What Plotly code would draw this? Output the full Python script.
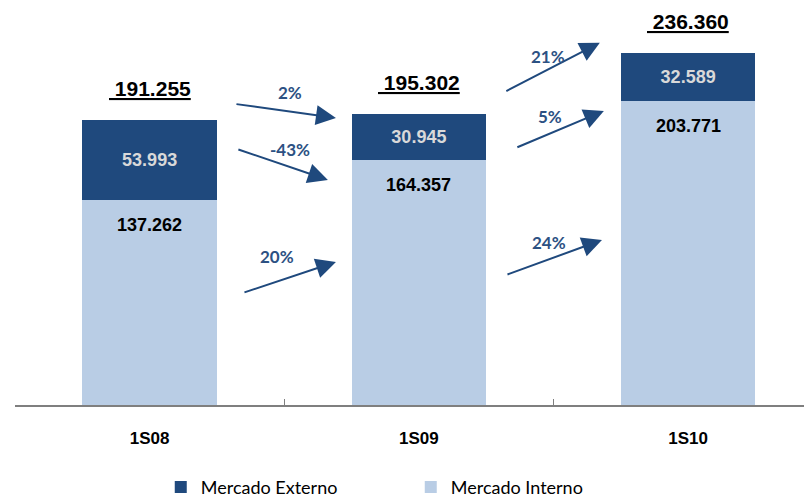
import plotly.graph_objects as go

periodos = ["1S08", "1S09", "1S10"]
mercado_interno = [137262, 164357, 203771]
mercado_externo = [53993, 30945, 32589]

# variacoes entre periodos
var_total = ["2%", "21%"]
var_externo = ["-43%", "5%"]
var_interno = ["20%", "24%"]

azul_escuro = "#1F497D"
azul_claro = "#B9CDE5"
azul_texto = "#2C5183"


def fmt(v):
    return f"{v:,}".replace(",", ".")


totais = [a + b for a, b in zip(mercado_interno, mercado_externo)]
xs = list(range(len(periodos)))

fig = go.Figure()
fig.add_trace(go.Bar(
    x=periodos, y=mercado_interno, name="Mercado Interno",
    marker=dict(color=azul_claro, line=dict(width=0)), width=0.5,
))
fig.add_trace(go.Bar(
    x=periodos, y=mercado_externo, name="Mercado Externo",
    marker=dict(color=azul_escuro, line=dict(width=0)), width=0.5,
    text=["<b>" + fmt(v) + "</b>" for v in mercado_externo], textposition="inside",
    insidetextanchor="middle",
    textfont=dict(family="Liberation Sans, Arial", size=18, color="#D9D9D9"),
))

anns = []
for i in xs:
    # rotulo do mercado interno, logo abaixo do topo do segmento
    anns.append(dict(x=i, y=mercado_interno[i], yshift=-25, text="<b>" + fmt(mercado_interno[i]) + "</b>",
                     showarrow=False, font=dict(family="Liberation Sans, Arial", size=18, color="black")))
    # total sublinhado
    anns.append(dict(x=i, y=totais[i], yshift=31, text="<b><u> " + fmt(totais[i]) + "</u></b>",
                     showarrow=False, font=dict(family="Liberation Sans, Arial", size=21, color="black")))

# setas de variacao (posicao aproximada a partir do grafico original)
setas = [
    # (x ponta, y ponta, ax, ay, x rotulo, y rotulo, texto)
    (0.692, 192600, -101, -14, 0.521, 209400, var_total[0]),
    (0.662, 151000, -91, -31, 0.521, 171100, var_externo[0]),
    (0.692, 96000, -93, 31, 0.473, 99300, var_interno[0]),
    (1.672, 243000, -95, 49, 1.479, 233600, var_total[1]),
    (1.687, 197300, -88, 37, 1.487, 193300, var_externo[1]),
    (1.680, 110700, -96, 35, 1.483, 108700, var_interno[1]),
]
for hx, hy, ax, ay, lx, ly, txt in setas:
    anns.append(dict(x=hx, y=hy, ax=ax, ay=ay, text="", showarrow=True,
                     arrowhead=2, arrowsize=2.0, arrowwidth=2, arrowcolor=azul_escuro))
    anns.append(dict(x=lx, y=ly, text="<b>" + txt + "</b>", showarrow=False,
                     font=dict(family="Lato", size=17, color=azul_texto)))

# a pagina tem margem de 8px no body, por isso 804x490
fig.update_layout(
    barmode="stack",
    width=804, height=490,
    margin=dict(l=7, r=0, t=2, b=93, autoexpand=False),
    plot_bgcolor="white", paper_bgcolor="white",
    annotations=anns,
    legend=dict(orientation="h", xref="container", x=0.19, xanchor="left",
                yref="container", y=0.022, yanchor="middle",
                traceorder="reversed", entrywidth=205, entrywidthmode="pixels",
                font=dict(family="Lato", size=18, color="black")),
    xaxis=dict(
        type="category", range=[-0.5, 2.46],
        showline=True, linecolor="#7F7F7F", linewidth=1.5, ticks="inside", ticklen=6,
        tickcolor="#7F7F7F", tickson="boundaries", showgrid=False, zeroline=False,
        ticklabelstandoff=17, automargin=False,
        tickfont=dict(family="Liberation Sans, Arial", size=17, color="black", weight="bold"),
    ),
    yaxis=dict(range=[0, 265000], visible=False, showgrid=False, automargin=False),
)

fig.write_html("out.html")
